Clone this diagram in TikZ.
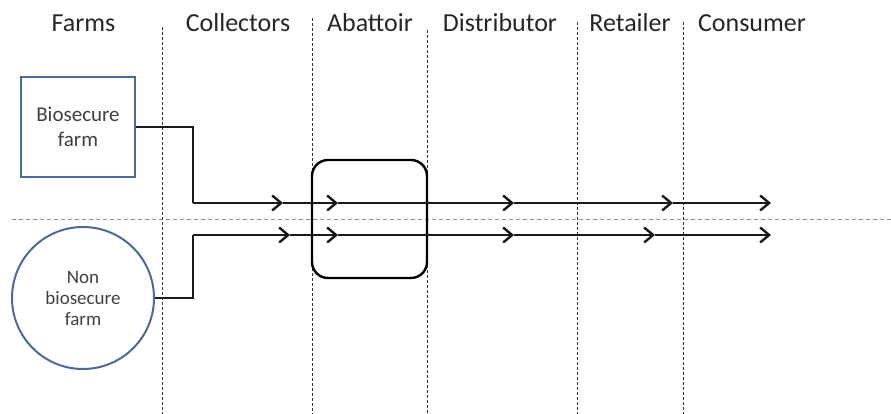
\documentclass[tikz,border=0pt]{standalone}
\usepackage{fontspec}
\setmainfont{Carlito}
\usetikzlibrary{arrows.meta}
\definecolor{farmblue}{HTML}{4A6A98}
\definecolor{txtgrey}{HTML}{404040}
\tikzset{
  header/.style={anchor=base, font=\fontsize{26}{30}\selectfont, text=black!85, inner sep=0pt},
  sep/.style={dash pattern=on 3pt off 2pt, line width=0.8pt, black!80},
  hsep/.style={dash pattern=on 4pt off 3pt, line width=1pt, black!45},
  flow/.style={line width=2.6pt, black!90},
  flowarr/.style={flow, -{Straight Barb[length=9pt,width=15pt,line width=2.4pt]}},
  farmbox/.style={draw=farmblue, line width=2pt, text=txtgrey, align=center, inner sep=0pt},
}
\begin{document}
\begin{tikzpicture}[x=1pt,y=-1pt]
\useasboundingbox (0,0) rectangle (891,414);
% separators
\draw[hsep] (12,219) -- (891,219);
\foreach \x/\t in {162/27,312/18,427/30,577/22,683/22}{
  \draw[sep] (\x,\t) -- (\x,414);
}
% headers
\node[header] (hfarms) at (83.5,32) {Farms};
\node[header] (hcoll) at (238,32) {Collectors};
\node[header] (habat) at (370,32) {Abattoir};
\node[header] (hdist) at (500,32) {Distributor};
\node[header] (hret) at (630,32) {Retailer};
\node[header] (hcons) at (752,32) {Consumer};
% farms
\node[farmbox, rectangle, minimum width=114pt, minimum height=100pt,
      font=\fontsize{21}{25}\selectfont] (bio) at (78,127) {Biosecure\\farm};
\node[farmbox, circle, minimum size=142pt,
      font=\fontsize{19}{21}\selectfont] (nonbio) at (83,298) {Non\\biosecure\\farm};
% abattoir
\node[draw, line width=2.4pt, rounded corners=16pt, minimum width=115pt,
      minimum height=118pt, inner sep=0pt] (abat) at (369.5,219) {};
% upper flow
\coordinate (u0) at (193,203);
\coordinate (u1) at (283,203);
\coordinate (u2) at (338,203);
\coordinate (u3) at (514,203);
\coordinate (u4) at (673,203);
\coordinate (u5) at (771,203);
\draw[flow] (bio.east) -| (u0);
\draw[flowarr] (u0) -- (u1);
\draw[flowarr] (u1) -- (u2);
\draw[flowarr] (u2) -- (u3);
\draw[flowarr] (u3) -- (u4);
\draw[flowarr] (u4) -- (u5);
% lower flow
\coordinate (l0) at (193,235);
\coordinate (l1) at (290,235);
\coordinate (l2) at (338,235);
\coordinate (l3) at (514,235);
\coordinate (l4) at (655,235);
\coordinate (l5) at (771,235);
\draw[flow] (nonbio.east) -| (l0);
\draw[flowarr] (l0) -- (l1);
\draw[flowarr] (l1) -- (l2);
\draw[flowarr] (l2) -- (l3);
\draw[flowarr] (l3) -- (l4);
\draw[flowarr] (l4) -- (l5);
\end{tikzpicture}
\end{document}
